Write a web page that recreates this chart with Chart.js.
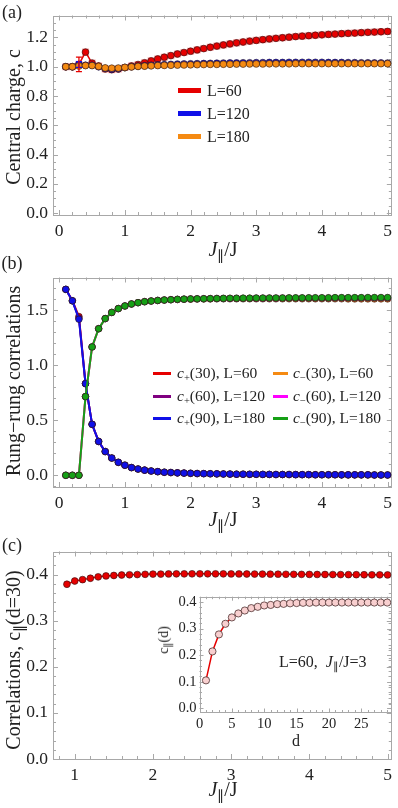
<!DOCTYPE html>
<html><head><meta charset="utf-8">
<script src="https://cdn.jsdelivr.net/npm/chart.js@4.4.1/dist/chart.umd.min.js"></script>
<style>
html,body{margin:0;padding:0;background:#fff;}
#wrap{position:relative;width:398px;height:808px;overflow:hidden;font-family:"Liberation Serif",serif;color:#222;}
canvas{position:absolute;}
.t{position:absolute;white-space:nowrap;line-height:1;}
.c{transform:translate(-50%,-50%);}
.r{transform:translate(-50%,-50%) rotate(-90deg);}
.l{transform:translate(0,-50%);}
sub{font-size:0.68em;vertical-align:baseline;position:relative;top:0.32em;}
.sw{position:absolute;}
</style></head><body><div id="wrap">
<canvas id="ca" style="left:0;top:0" width="398" height="240"></canvas>
<canvas id="cb" style="left:0;top:262px" width="398" height="250"></canvas>
<canvas id="cc" style="left:0;top:536px" width="398" height="249"></canvas>
<canvas id="ci" style="left:160px;top:585px" width="236" height="150"></canvas>

<div class="t c" style="left:12px;top:12px;font-size:18px">(a)</div>
<div class="t c" style="left:12px;top:263px;font-size:18px">(b)</div>
<div class="t c" style="left:12px;top:545px;font-size:18px">(c)</div>

<div class="t r" style="left:13px;top:117px;font-size:20px">Central charge, c</div>
<div class="t r" style="left:13px;top:381px;font-size:20px">Rung&minus;rung correlations</div>
<div class="t r" style="left:13px;top:660px;font-size:20px">Correlations, c<sub>∥</sub>(d=30)</div>

<div class="t c" style="left:223px;top:249px;font-size:20px"><i>J</i><sub>∥</sub>/J</div>
<div class="t c" style="left:223px;top:519px;font-size:20px"><i>J</i><sub>∥</sub>/J</div>
<div class="t c" style="left:223px;top:789px;font-size:20px"><i>J</i><sub>∥</sub>/J</div>

<!-- legend (a) -->
<div class="sw" style="left:178px;top:88px;width:23px;height:5px;background:#e60000"></div>
<div class="t l" style="left:207px;top:91px;font-size:16px">L=60</div>
<div class="sw" style="left:178px;top:111px;width:23px;height:5px;background:#1010e8"></div>
<div class="t l" style="left:207px;top:114px;font-size:16px">L=120</div>
<div class="sw" style="left:178px;top:134px;width:23px;height:5px;background:#f58a12"></div>
<div class="t l" style="left:207px;top:137px;font-size:16px">L=180</div>

<!-- legend (b) -->
<div class="sw" style="left:153px;top:372px;width:18px;height:2.5px;background:#e60000"></div>
<div class="t l" style="left:177px;top:373px;font-size:15.5px"><i>c</i><sub>+</sub>(30), L=60</div>
<div class="sw" style="left:153px;top:395px;width:18px;height:2.5px;background:#800080"></div>
<div class="t l" style="left:177px;top:396px;font-size:15.5px"><i>c</i><sub>+</sub>(60), L=120</div>
<div class="sw" style="left:153px;top:417px;width:18px;height:2.5px;background:#1010e8"></div>
<div class="t l" style="left:177px;top:418px;font-size:15.5px"><i>c</i><sub>+</sub>(90), L=180</div>
<div class="sw" style="left:273px;top:372px;width:15px;height:2.5px;background:#f58a12"></div>
<div class="t l" style="left:293px;top:373px;font-size:15.5px"><i>c</i><sub>−</sub>(30), L=60</div>
<div class="sw" style="left:273px;top:395px;width:15px;height:2.5px;background:#ff00ff"></div>
<div class="t l" style="left:293px;top:396px;font-size:15.5px"><i>c</i><sub>−</sub>(60), L=120</div>
<div class="sw" style="left:273px;top:417px;width:15px;height:2.5px;background:#16a016"></div>
<div class="t l" style="left:293px;top:418px;font-size:15.5px"><i>c</i><sub>−</sub>(90), L=180</div>

<!-- inset texts -->
<div class="t r" style="left:164px;top:640px;font-size:14px">c<sub>∥</sub>(d)</div>
<div class="t c" style="left:296px;top:741px;font-size:16px">d</div>
<div class="t l" style="left:279px;top:662px;font-size:16px">L=60, &nbsp;<i>J</i><sub>∥</sub>/J=3</div>
</div>
<script>
// ---------- data ----------
const jA = [0.1,0.2,0.3,0.4,0.5,0.6,0.7,0.8,0.9,1.0,1.1,1.2,1.3,1.4,1.5,1.6,1.7,1.8,1.9,2.0,2.1,2.2,2.3,2.4,2.5,2.6,2.7,2.8,2.9,3.0,3.1,3.2,3.3,3.4,3.5,3.6,3.7,3.8,3.9,4.0,4.1,4.2,4.3,4.4,4.5,4.6,4.7,4.8,4.9,5.0];
const cL60 = [1.000,1.000,1.016,1.100,1.025,1.005,0.985,0.980,0.985,0.995,1.005,1.015,1.027,1.040,1.053,1.065,1.076,1.087,1.097,1.106,1.115,1.124,1.133,1.141,1.149,1.156,1.163,1.169,1.175,1.180,1.185,1.190,1.194,1.198,1.202,1.206,1.209,1.212,1.215,1.218,1.221,1.223,1.226,1.228,1.230,1.233,1.235,1.237,1.239,1.241];
const cL60err = [0,0,0.050,0,0,0,0,0,0,0,0,0,0,0,0,0,0,0,0,0,0,0,0,0,0,0,0,0,0,0,0,0,0,0,0,0,0,0,0,0,0,0,0,0,0,0,0,0,0,0];
const cL120 = [1.000,1.000,1.015,1.010,1.010,1.000,0.988,0.982,0.986,0.994,1.000,1.004,1.007,1.010,1.012,1.014,1.016,1.018,1.019,1.020,1.021,1.022,1.023,1.024,1.025,1.026,1.026,1.027,1.027,1.028,1.028,1.029,1.029,1.029,1.030,1.030,1.030,1.030,1.030,1.030,1.029,1.029,1.029,1.028,1.028,1.027,1.027,1.026,1.026,1.025];
const cL120err = [0,0,0.020,0,0,0,0,0,0,0,0,0,0,0,0,0,0,0,0,0,0,0,0,0,0,0,0,0,0,0,0,0,0,0,0,0,0,0,0,0,0,0,0,0,0,0,0,0,0,0];
const cL180 = [1.000,1.000,1.005,1.008,1.008,1.002,0.992,0.990,0.991,0.995,0.999,1.002,1.004,1.006,1.008,1.009,1.010,1.011,1.012,1.013,1.014,1.015,1.016,1.016,1.017,1.017,1.018,1.018,1.019,1.019,1.019,1.020,1.020,1.020,1.020,1.021,1.021,1.021,1.021,1.021,1.021,1.021,1.021,1.021,1.021,1.021,1.021,1.021,1.021,1.021];

const cPlus30L60  = [1.692,1.588,1.445,0.834,0.464,0.308,0.216,0.157,0.118,0.092,0.070,0.057,0.047,0.039,0.033,0.028,0.025,0.022,0.020,0.018,0.016,0.015,0.014,0.013,0.012,0.011,0.010,0.010,0.009,0.009,0.008,0.008,0.007,0.007,0.007,0.006,0.006,0.006,0.005,0.005,0.005,0.005,0.004,0.004,0.004,0.004,0.004,0.003,0.003,0.003];
const cPlus60L120 = [1.692,1.588,1.430,0.834,0.464,0.308,0.216,0.157,0.118,0.092,0.070,0.057,0.047,0.039,0.033,0.028,0.025,0.022,0.020,0.018,0.016,0.015,0.014,0.013,0.012,0.011,0.010,0.010,0.009,0.009,0.008,0.008,0.007,0.007,0.007,0.006,0.006,0.006,0.005,0.005,0.005,0.005,0.004,0.004,0.004,0.004,0.004,0.003,0.003,0.003];
const cPlus90L180 = [1.692,1.588,1.420,0.834,0.464,0.308,0.216,0.157,0.118,0.092,0.070,0.057,0.047,0.039,0.033,0.028,0.025,0.022,0.020,0.018,0.016,0.015,0.014,0.013,0.012,0.011,0.010,0.010,0.009,0.009,0.008,0.008,0.007,0.007,0.007,0.006,0.006,0.006,0.005,0.005,0.005,0.005,0.004,0.004,0.004,0.004,0.004,0.003,0.003,0.003];
const cMinus30L60  = [0.000,0.000,0.000,0.716,1.168,1.334,1.426,1.482,1.517,1.541,1.559,1.571,1.580,1.586,1.591,1.595,1.598,1.600,1.602,1.603,1.604,1.605,1.605,1.606,1.606,1.606,1.606,1.606,1.606,1.606,1.606,1.606,1.606,1.606,1.606,1.606,1.606,1.606,1.606,1.606,1.606,1.606,1.606,1.605,1.605,1.605,1.605,1.605,1.605,1.605];
const cMinus60L120 = [0.000,0.000,0.000,0.716,1.168,1.334,1.426,1.482,1.517,1.541,1.559,1.571,1.580,1.586,1.591,1.595,1.598,1.601,1.603,1.605,1.606,1.607,1.608,1.609,1.610,1.610,1.611,1.611,1.611,1.612,1.612,1.612,1.612,1.613,1.613,1.613,1.613,1.613,1.613,1.613,1.613,1.614,1.614,1.614,1.614,1.614,1.614,1.614,1.614,1.614];
const cMinus90L180 = [0.000,0.000,0.000,0.716,1.168,1.334,1.426,1.482,1.517,1.541,1.559,1.571,1.580,1.586,1.591,1.595,1.598,1.601,1.603,1.605,1.606,1.607,1.608,1.609,1.610,1.611,1.611,1.612,1.612,1.613,1.613,1.614,1.614,1.614,1.615,1.615,1.615,1.616,1.616,1.616,1.616,1.617,1.617,1.617,1.617,1.617,1.618,1.618,1.618,1.618];

const jC = [0.9,1.0,1.1,1.2,1.3,1.4,1.5,1.6,1.7,1.8,1.9,2.0,2.1,2.2,2.3,2.4,2.5,2.6,2.7,2.8,2.9,3.0,3.1,3.2,3.3,3.4,3.5,3.6,3.7,3.8,3.9,4.0,4.1,4.2,4.3,4.4,4.5,4.6,4.7,4.8,4.9,5.0];
const cPar30 = [0.379,0.386,0.389,0.392,0.395,0.397,0.398,0.399,0.3995,0.400,0.4005,0.401,0.401,0.4013,0.4015,0.4015,0.4016,0.4016,0.4016,0.4015,0.4015,0.4014,0.4013,0.4012,0.4011,0.401,0.4009,0.4008,0.4006,0.4005,0.4004,0.4003,0.4002,0.4001,0.400,0.3999,0.3998,0.3997,0.3996,0.3995,0.3994,0.3993];

const dIn = [1,2,3,4,5,6,7,8,9,10,11,12,13,14,15,16,17,18,19,20,21,22,23,24,25,26,27,28,29];
const cParD = [0.105,0.214,0.278,0.318,0.342,0.357,0.368,0.377,0.382,0.387,0.389,0.392,0.393,0.395,0.396,0.397,0.397,0.398,0.398,0.398,0.398,0.398,0.398,0.398,0.398,0.398,0.398,0.398,0.398];

const ticksAx = [0,1,2,3,4,5];
const ticksAy = [0.0,0.2,0.4,0.6,0.8,1.0,1.2];
const ticksBy = [0.0,0.5,1.0,1.5];
const ticksCx = [1,2,3,4,5];
const ticksCy = [0.0,0.1,0.2,0.3,0.4];
const ticksIx = [0,5,10,15,20,25];
const ticksIy = [0.0,0.1,0.2,0.3,0.4];

// ---------- helpers ----------
const FONT = 'Liberation Serif';
const pts = (xs, ys) => xs.map((x, i) => ({x, y: ys[i]}));

const frameTicks = {
  id: 'frameTicks',
  beforeDatasetsDraw(chart, args, o) {
    const {ctx, chartArea: a, scales: {x, y}} = chart;
    ctx.save();
    ctx.strokeStyle = '#a8a8a8';
    ctx.lineWidth = 1;
    ctx.beginPath();
    const near = (arr, v) => arr.some(m => Math.abs(m - v) < 1e-6);
    const mx = x.ticks.map(t => t.value), my = y.ticks.map(t => t.value);
    for (let k = Math.ceil(x.min / o.mx - 1e-9); k * o.mx <= x.max + 1e-9; k++) {
      const v = k * o.mx, len = near(mx, v) ? o.maj : o.min;
      const p = Math.round(x.getPixelForValue(v)) + 0.5;
      ctx.moveTo(p, a.bottom); ctx.lineTo(p, a.bottom - len);
      ctx.moveTo(p, a.top); ctx.lineTo(p, a.top + len);
    }
    for (let k = Math.ceil(y.min / o.my - 1e-9); k * o.my <= y.max + 1e-9; k++) {
      const v = k * o.my, len = near(my, v) ? o.maj : o.min;
      const p = Math.round(y.getPixelForValue(v)) + 0.5;
      ctx.moveTo(a.left, p); ctx.lineTo(a.left + len, p);
      ctx.moveTo(a.right, p); ctx.lineTo(a.right - len, p);
    }
    ctx.stroke();
    ctx.strokeRect(Math.round(a.left) + 0.5, Math.round(a.top) + 0.5, Math.round(a.right - a.left) - 1, Math.round(a.bottom - a.top) - 1);
    ctx.restore();
  }
};

const errBars = {
  id: 'errBars',
  afterDatasetsDraw(chart) {
    const {ctx, scales: {x, y}} = chart;
    chart.data.datasets.forEach(ds => {
      if (!ds.errors) return;
      ctx.save();
      ctx.strokeStyle = ds.borderColor; ctx.lineWidth = 1.3;
      ctx.beginPath();
      ds.data.forEach((p, i) => {
        const e = ds.errors[i]; if (!e) return;
        const px = x.getPixelForValue(p.x), y1 = y.getPixelForValue(p.y - e), y2 = y.getPixelForValue(p.y + e);
        ctx.moveTo(px, y1); ctx.lineTo(px, y2);
        ctx.moveTo(px - 3, y1); ctx.lineTo(px + 3, y1);
        ctx.moveTo(px - 3, y2); ctx.lineTo(px + 3, y2);
      });
      ctx.stroke(); ctx.restore();
    });
  }
};

function axis(min, max, ticks, fmt, size, pad, fixed, isX) {
  return {
    type: 'linear', min, max,
    afterBuildTicks: s => { s.ticks = ticks.map(v => ({value: v})); },
    afterFit: s => { if (isX) s.height = fixed; else s.width = fixed; },
    grid: {display: false, drawTicks: false},
    border: {display: false},
    ticks: {padding: pad, color: '#222', autoSkip: false, maxRotation: 0,
      font: {family: FONT, size}, callback: v => fmt(v)}
  };
}
const f0 = v => String(v), f1 = v => v.toFixed(1);

function ds(data, color, opt) {
  return Object.assign({
    data, borderColor: color, backgroundColor: color, pointBackgroundColor: color,
    pointBorderColor: 'rgba(40,20,20,0.75)', pointBorderWidth: 0.8, pointRadius: 3.4,
    borderWidth: 1.5, tension: 0, showLine: true
  }, opt || {});
}

function make(id, datasets, x, y, pad, tk) {
  return new Chart(document.getElementById(id), {
    type: 'line',
    data: {datasets},
    options: {
      responsive: false, animation: false, devicePixelRatio: 1,
      layout: {padding: pad},
      plugins: {legend: {display: false}, tooltip: {enabled: false}, frameTicks: tk},
      scales: {x, y}
    },
    plugins: [frameTicks, errBars]
  });
}

// ---------- panel (a) ----------
make('ca', [
  ds(pts(jA, cL180), '#f58a12', {order: 0}),
  ds(pts(jA, cL120), '#1010e8', {order: 1, errors: cL120err}),
  ds(pts(jA, cL60), '#e60000', {order: 2, errors: cL60err}),
  ds(pts(jA, cL60), 'rgba(255,110,110,0.55)', {order: 3, showLine: false, pointStyle: 'rect', pointRadius: 5, pointBorderWidth: 0})
],
  axis(-0.095, 5.065, ticksAx, f0, 17.5, 6, 25, true),
  axis(-0.013, 1.35, ticksAy, f1, 17.5, 5, 53, false),
  {left: 0, right: 3, top: 2, bottom: 0},
  {mx: 0.2, my: 0.05, maj: 5, min: 3});

// ---------- panel (b) ----------
make('cb', [
  ds(pts(jA, cMinus90L180), '#16a016', {order: 0, borderWidth: 2, pointRadius: 3.3}),
  ds(pts(jA, cPlus90L180), '#1010e8', {order: 1, borderWidth: 2, pointRadius: 3.3}),
  ds(pts(jA, cMinus60L120), '#ff00ff', {order: 2, borderWidth: 2, pointRadius: 3.3}),
  ds(pts(jA, cMinus30L60), '#f58a12', {order: 3, borderWidth: 2, pointRadius: 3.3}),
  ds(pts(jA, cPlus60L120), '#800080', {order: 4, borderWidth: 2, pointRadius: 3.3}),
  ds(pts(jA, cPlus30L60), '#e60000', {order: 5, borderWidth: 2, pointRadius: 3.3})
],
  axis(-0.095, 5.065, ticksAx, f0, 17.5, 6, 25, true),
  axis(-0.1065, 1.8, ticksBy, f1, 17.5, 5, 53, false),
  {left: 0, right: 3, top: 10, bottom: 0},
  {mx: 0.2, my: 0.1, maj: 5, min: 3});

// ---------- panel (c) ----------
make('cc', [
  ds(pts(jC, cPar30), '#e60000', {pointRadius: 3.4})
],
  axis(0.722, 5.054, ticksCx, f0, 17.5, 6, 26, true),
  axis(0, 0.45, ticksCy, f1, 17.5, 5, 53, false),
  {left: 0, right: 2, top: 10, bottom: 0},
  {mx: 0.2, my: 0.02, maj: 5, min: 3});

// ---------- inset ----------
make('ci', [
  ds(pts(dIn, cParD), '#e60000', {pointBackgroundColor: '#f8cfcf', pointBorderColor: 'rgba(60,30,30,0.8)', pointRadius: 3.6, pointBorderWidth: 0.9})
],
  axis(0, 29.6, ticksIx, f0, 14.5, 3, 22.5, true),
  axis(-0.016, 0.42, ticksIy, f1, 14.5, 3, 39.5, false),
  {left: 0, right: 3.3, top: 6, bottom: 0},
  {mx: 1, my: 0.02, maj: 4, min: 2.5});
</script>
</body></html>
